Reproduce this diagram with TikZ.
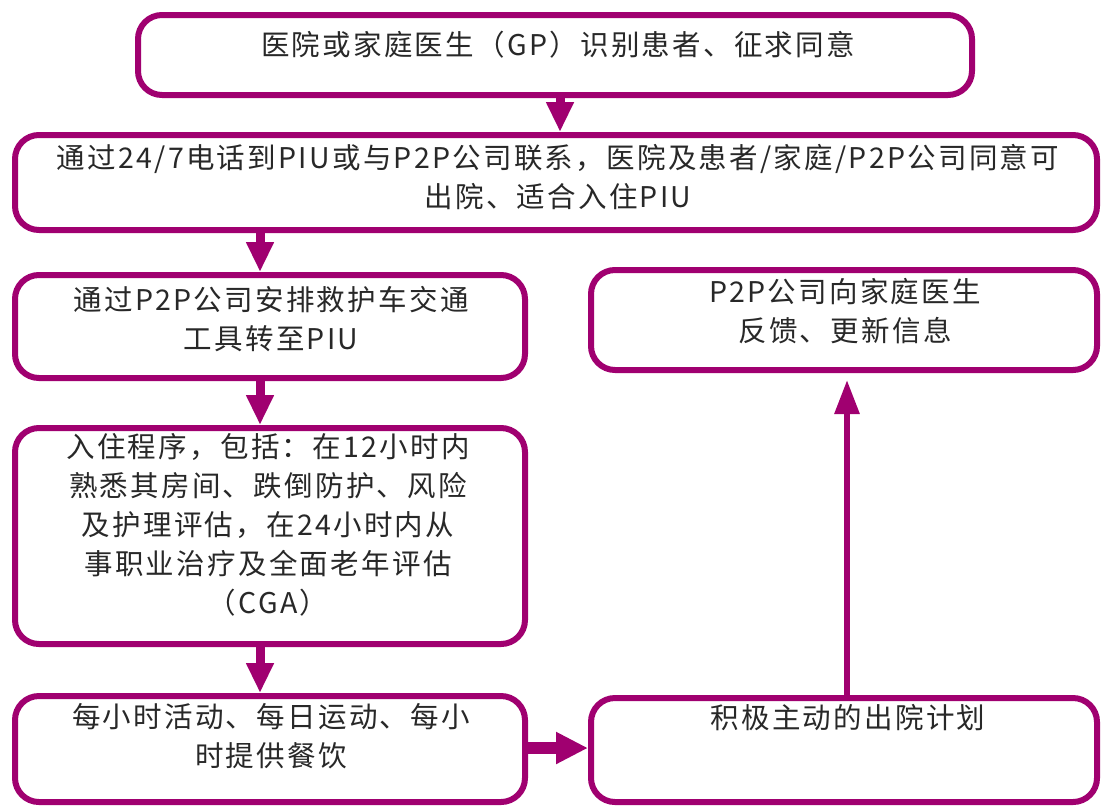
\documentclass[tikz,border=0pt]{standalone}
\usepackage{fontspec}
\newfontfamily\cjk[LetterSpace=8]{Noto Sans CJK SC}
\usetikzlibrary{arrows.meta}
\definecolor{pm}{RGB}{160,0,112}
\definecolor{txt}{RGB}{40,40,40}
\tikzset{
  box/.style={draw=pm, line width=6pt, rounded corners=24pt, fill=white, inner sep=0pt},
  txtnode/.style={text=txt, align=center, inner sep=0pt, font=\cjk\fontsize{28.5}{39}\selectfont},
  arr/.style={draw=pm, line width=9pt, -{Triangle[length=30pt,width=26pt]}},
  arrthin/.style={draw=pm, line width=6pt, -{Triangle[length=34pt,width=24pt]}},
  arrthick/.style={draw=pm, line width=12pt, -{Triangle[length=32pt,width=30pt]}}
}
\begin{document}
\begin{tikzpicture}[x=1pt,y=-1pt]
\useasboundingbox (0,0) rectangle (1102,807);
% boxes
\node[box, minimum width=834pt, minimum height=80pt] (b1) at (555,55) {};
\node[box, minimum width=1082pt, minimum height=95pt] (b2) at (556,182.5) {};
\node[box, minimum width=510pt, minimum height=103pt] (b3) at (270,326.5) {};
\node[box, minimum width=506pt, minimum height=100pt] (b4) at (844,320) {};
\node[box, minimum width=510pt, minimum height=216pt] (b5) at (270,536) {};
\node[box, minimum width=510pt, minimum height=106pt] (b6) at (270,749) {};
\node[box, minimum width=506pt, minimum height=104pt] (b7) at (844,750) {};
% texts
\node[txtnode] (t1) at (558,45) {医院或家庭医生（GP）识别患者、征求同意};
\node[txtnode] (t2) at (558,177.5) {通过24/7电话到PIU或与P2P公司联系，医院及患者/家庭/P2P公司同意可\\出院、适合入住PIU};
\node[txtnode] (t3) at (271,319) {通过P2P公司安排救护车交通\\工具转至PIU};
\node[txtnode] (t4) at (845,311) {P2P公司向家庭医生\\反馈、更新信息};
\node[txtnode] (t5) at (268,525) {入住程序，包括：在12小时内\\熟悉其房间、跌倒防护、风险\\及护理评估，在24小时内从\\事职业治疗及全面老年评估\\（CGA）};
\node[txtnode] (t6) at (271,736.5) {每小时活动、每日运动、每小\\时提供餐饮};
\node[txtnode] (t7) at (848,718) {积极主动的出院计划};
% connector columns
\coordinate (c1) at (560,0);
\coordinate (c2) at (260,0);
\coordinate (c3) at (847,0);
\coordinate (r1) at (0,748);
% connectors
\draw[arr] (b1.south -| c1) -- (b2.north -| c1);
\draw[arr] (b2.south -| c2) -- (b3.north -| c2);
\draw[arr] (b3.south -| c2) -- (b5.north -| c2);
\draw[arr] (b5.south -| c2) -- (b6.north -| c2);
\draw[arrthick] (b6.east |- r1) -- (b7.west |- r1);
\draw[arrthin] (b7.north -| c3) -- ([yshift=-7pt]b4.south -| c3);
\end{tikzpicture}
\end{document}
